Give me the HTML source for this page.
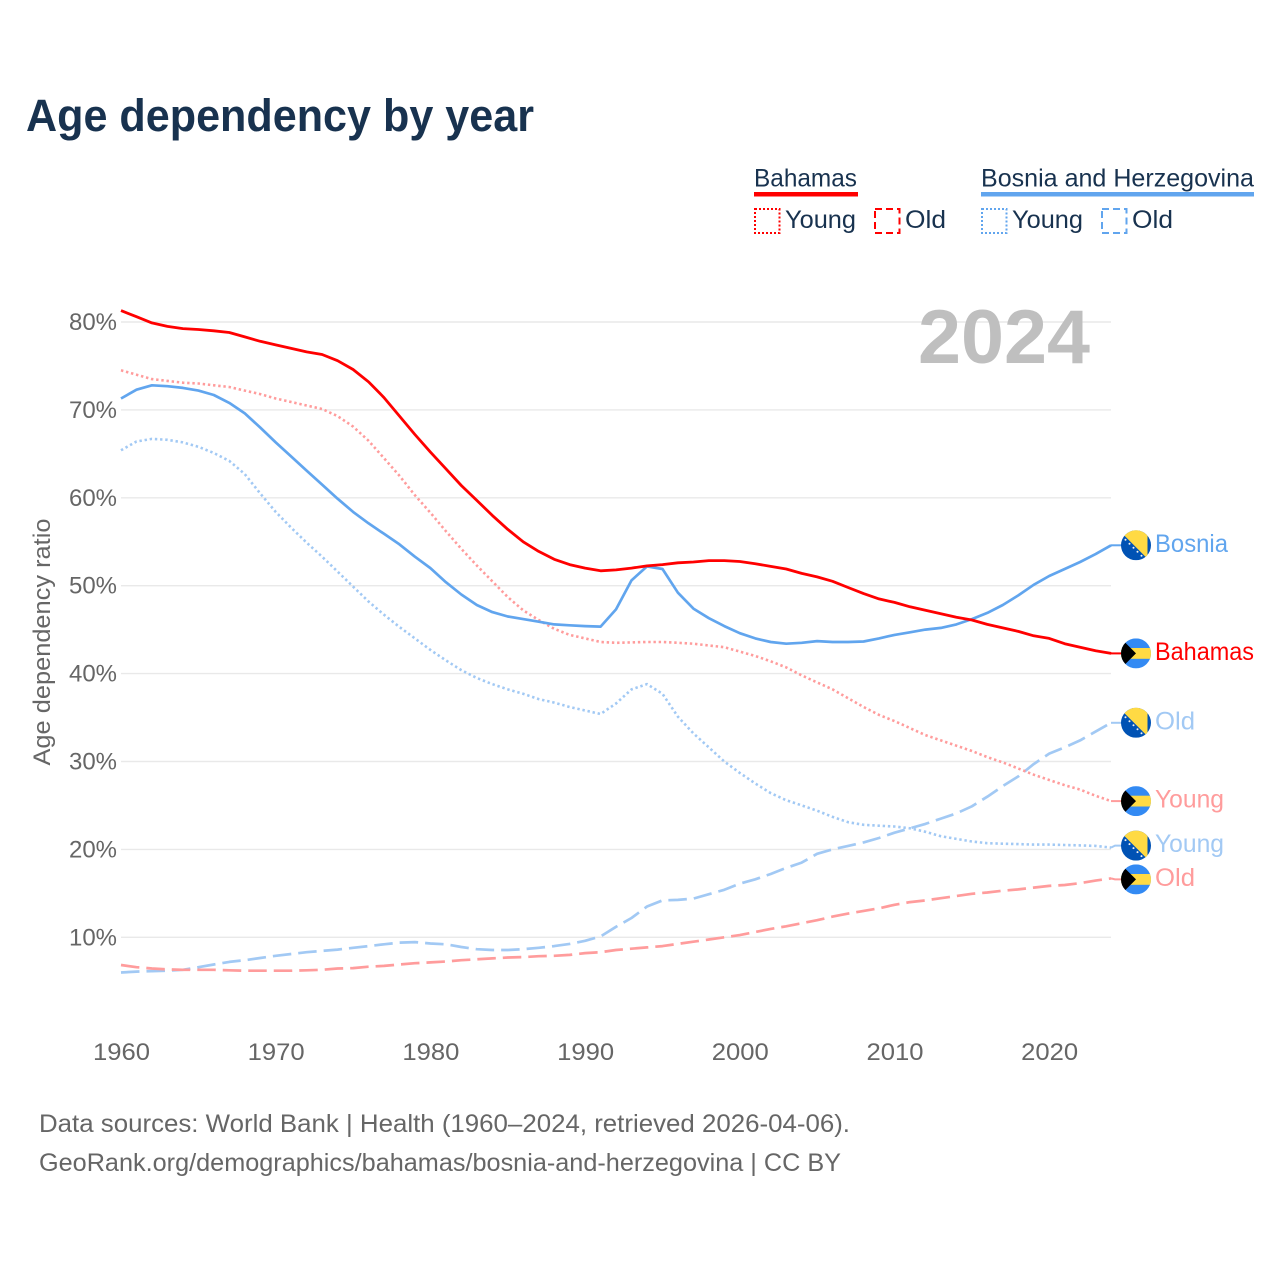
<!DOCTYPE html>
<html lang="en">
<head>
<meta charset="utf-8">
<title>Age dependency by year</title>
<style>
html,body{margin:0;padding:0;background:#fff;width:1280px;height:1280px;overflow:hidden}
svg{display:block}
text{font-family:"Liberation Sans",sans-serif}
</style>
</head>
<body>
<svg id="chart" xmlns="http://www.w3.org/2000/svg" width="1280" height="1280" viewBox="0 0 1280 1280">
  <defs>
    <clipPath id="flag-clip"><circle cx="0" cy="0" r="15"/></clipPath>
    <g id="flag-bahamas" clip-path="url(#flag-clip)">
      <rect x="-15" y="-15" width="30" height="30" fill="#338af3"/>
      <rect x="-15" y="-5.4" width="30" height="10.8" fill="#ffda44"/>
      <polygon points="-15,-15 0,0 -15,15" fill="#000"/>
    </g>
    <g id="flag-bosnia" clip-path="url(#flag-clip)">
      <rect x="-15" y="-15" width="30" height="30" fill="#0052b4"/>
      <polygon points="-20,-18 11.5,-18 11.5,13.5" fill="#ffda44"/>
      <g fill="#f0f0f0">
        <circle cx="-10.5" cy="-5.5" r="1"/><circle cx="-6.5" cy="-1.5" r="1"/><circle cx="-2.5" cy="2.5" r="1"/><circle cx="1.5" cy="6.5" r="1"/><circle cx="5.5" cy="10.5" r="1"/>
      </g>
    </g>
  </defs>

  <text x="26" y="131" font-size="45" font-weight="700" fill="#18324f" textLength="508" lengthAdjust="spacingAndGlyphs">Age dependency by year</text>

  <g>
    <g>
      <text x="754" y="186.5" font-size="25" fill="#18324f" textLength="103" lengthAdjust="spacingAndGlyphs">Bahamas</text>
      <rect x="754" y="192" width="104" height="4.5" fill="#ff0000"/>
      <rect x="755" y="209" width="24.5" height="24" fill="none" stroke="#ff0000" stroke-width="2" stroke-dasharray="2 2"/>
      <text x="785" y="228" font-size="25" fill="#18324f" textLength="71" lengthAdjust="spacingAndGlyphs">Young</text>
      <rect x="875" y="209" width="24.5" height="24" fill="none" stroke="#ff0000" stroke-width="2" stroke-dasharray="7 4"/>
      <text x="905" y="228" font-size="25" fill="#18324f" textLength="41" lengthAdjust="spacingAndGlyphs">Old</text>
    </g>
    <g>
      <text x="981" y="186.5" font-size="25" fill="#18324f" textLength="273" lengthAdjust="spacingAndGlyphs">Bosnia and Herzegovina</text>
      <rect x="981" y="192" width="273" height="4.5" fill="#61a5ee"/>
      <rect x="982" y="209" width="24.5" height="24" fill="none" stroke="#61a5ee" stroke-width="2" stroke-dasharray="2 2"/>
      <text x="1012" y="228" font-size="25" fill="#18324f" textLength="71" lengthAdjust="spacingAndGlyphs">Young</text>
      <rect x="1102" y="209" width="24.5" height="24" fill="none" stroke="#61a5ee" stroke-width="2" stroke-dasharray="7 4"/>
      <text x="1132" y="228" font-size="25" fill="#18324f" textLength="41" lengthAdjust="spacingAndGlyphs">Old</text>
    </g>
  </g>

  <text transform="translate(50,642) rotate(-90)" text-anchor="middle" font-size="24" fill="#666666" textLength="247" lengthAdjust="spacingAndGlyphs">Age dependency ratio</text>
  <g id="grid"></g>
  <g id="y-ticks"></g>
  <g id="x-ticks"></g>
  <text x="918" y="363" font-size="76" font-weight="700" fill="#bfbfbf" textLength="172" lengthAdjust="spacingAndGlyphs">2024</text>
  <g id="series"></g>
  <g id="end-labels"></g>

  <text x="39" y="1132" font-size="25" fill="#666666" textLength="811" lengthAdjust="spacingAndGlyphs">Data sources: World Bank | Health (1960–2024, retrieved 2026-04-06).</text>
  <text x="39" y="1171" font-size="25" fill="#666666" textLength="802" lengthAdjust="spacingAndGlyphs">GeoRank.org/demographics/bahamas/bosnia-and-herzegovina | CC BY</text>
</svg>

<script>
var years = [1960,1961,1962,1963,1964,1965,1966,1967,1968,1969,1970,1971,1972,1973,1974,1975,1976,1977,1978,1979,1980,1981,1982,1983,1984,1985,1986,1987,1988,1989,1990,1991,1992,1993,1994,1995,1996,1997,1998,1999,2000,2001,2002,2003,2004,2005,2006,2007,2008,2009,2010,2011,2012,2013,2014,2015,2016,2017,2018,2019,2020,2021,2022,2023,2024];
var xTickYears = [1960,1970,1980,1990,2000,2010,2020];
var yTickValues = [10,20,30,40,50,60,70,80];

var bahamasTotal = [81.3,80.6,79.9,79.5,79.25,79.15,79.0,78.8,78.3,77.8,
  77.4,77.0,76.6,76.3,75.6,74.6,73.2,71.4,69.3,67.2,
  65.2,63.3,61.4,59.7,58.0,56.4,55.0,53.9,53.0,52.4,
  52.0,51.7,51.8,52.0,52.25,52.4,52.6,52.7,52.85,52.85,
  52.75,52.5,52.2,51.9,51.4,51.0,50.5,49.8,49.1,48.5,
  48.1,47.6,47.2,46.8,46.4,46.1,45.6,45.2,44.8,44.3,
  44.0,43.4,43.0,42.6,42.3];
var bahamasYoung = [74.5,74.0,73.5,73.3,73.1,73.0,72.8,72.6,72.2,71.8,
  71.3,70.9,70.5,70.1,69.3,68.1,66.5,64.5,62.5,60.3,
  58.3,56.2,54.2,52.3,50.5,48.7,47.2,46.1,45.1,44.4,
  44.0,43.6,43.5,43.55,43.6,43.6,43.5,43.4,43.2,43.0,
  42.5,42.0,41.4,40.7,39.8,39.0,38.2,37.2,36.2,35.3,
  34.6,33.8,33.0,32.4,31.8,31.2,30.5,29.9,29.2,28.5,
  27.9,27.3,26.8,26.1,25.5];
var bahamasOld = [6.85,6.6,6.45,6.35,6.3,6.3,6.3,6.25,6.2,6.2,
  6.2,6.2,6.25,6.3,6.45,6.5,6.65,6.75,6.9,7.05,
  7.15,7.25,7.4,7.5,7.6,7.7,7.75,7.85,7.9,8.0,
  8.2,8.3,8.55,8.7,8.85,9.0,9.25,9.5,9.75,10.0,
  10.25,10.6,10.95,11.25,11.6,11.95,12.35,12.7,13.0,13.3,
  13.7,14.0,14.2,14.45,14.7,14.95,15.1,15.3,15.45,15.65,
  15.85,15.95,16.15,16.45,16.7];
var bosniaTotal = [71.3,72.3,72.8,72.7,72.5,72.2,71.7,70.8,69.6,68.0,
  66.3,64.7,63.1,61.5,59.9,58.4,57.1,55.9,54.7,53.3,
  52.0,50.4,49.0,47.8,47.0,46.5,46.2,45.9,45.6,45.5,
  45.4,45.35,47.3,50.6,52.2,51.9,49.2,47.4,46.3,45.4,
  44.6,44.0,43.6,43.4,43.5,43.7,43.6,43.6,43.65,44.0,
  44.4,44.7,45.0,45.2,45.6,46.2,46.9,47.8,48.9,50.1,
  51.1,51.9,52.7,53.6,54.6];
var bosniaYoung = [65.4,66.4,66.7,66.6,66.3,65.8,65.1,64.2,62.7,60.5,
  58.4,56.6,54.9,53.3,51.6,49.9,48.2,46.7,45.3,44.0,
  42.7,41.5,40.4,39.5,38.8,38.2,37.7,37.1,36.7,36.2,
  35.8,35.4,36.6,38.2,38.8,37.7,35.1,33.2,31.6,30.0,
  28.7,27.5,26.4,25.6,25.0,24.4,23.7,23.1,22.8,22.7,
  22.6,22.4,22.0,21.5,21.2,20.9,20.7,20.65,20.6,20.55,
  20.55,20.5,20.45,20.4,20.2];
var bosniaOld = [6.0,6.1,6.15,6.2,6.3,6.6,6.9,7.2,7.4,7.65,
  7.9,8.1,8.3,8.45,8.6,8.8,9.0,9.2,9.4,9.45,
  9.3,9.2,8.9,8.65,8.55,8.55,8.65,8.8,9.0,9.25,
  9.6,10.1,11.2,12.2,13.5,14.2,14.25,14.4,14.9,15.4,
  16.1,16.6,17.2,17.9,18.5,19.5,20.0,20.4,20.8,21.3,
  21.9,22.4,22.9,23.5,24.1,24.9,26.0,27.2,28.3,29.7,
  30.9,31.6,32.4,33.4,34.4];

var NS = 'http://www.w3.org/2000/svg';
function xScale(year){ return 121 + (year - 1960) * 15.47; }
function yScale(value){ return 937.3 - (value - 10) * 8.79; }
function make(tag, attrs, parent){
  var el = document.createElementNS(NS, tag);
  for (var k in attrs) el.setAttribute(k, attrs[k]);
  parent.appendChild(el);
  return el;
}

var gridGroup = document.getElementById('grid');
var yTickGroup = document.getElementById('y-ticks');
var xTickGroup = document.getElementById('x-ticks');
var seriesGroup = document.getElementById('series');
var labelGroup = document.getElementById('end-labels');

yTickValues.forEach(function(v){
  var line = make('line', {x1:121, x2:1111, y1:yScale(v), y2:yScale(v), stroke:'#e9e9e9', 'stroke-width':1.4}, gridGroup);
  
  
  var t = make('text', {x:117, y:yScale(v)+8, 'text-anchor':'end', 'font-size':24, fill:'#666666', textLength:48, lengthAdjust:'spacingAndGlyphs'}, yTickGroup);
  t.textContent = v + '%';
  
  
});

xTickYears.forEach(function(year){
  var t = make('text', {x:xScale(year)+0.5, y:1060, 'text-anchor':'middle', 'font-size':24, fill:'#666666', textLength:57, lengthAdjust:'spacingAndGlyphs'}, xTickGroup);
  t.textContent = year;
  
  
});

var RED = '#ff0000', BLUE = '#61a5ee', LIGHT_RED = '#ff9c9c', LIGHT_BLUE = '#a2c9f4';
var DOT = '2.4 2.8', DASH = '18.5 7';

function drawLine(name, values, color, dash, width){
  var pts = values.map(function(v, i){ return xScale(years[i]).toFixed(1) + ',' + yScale(v).toFixed(1); }).join(' ');
  var attrs = {points:pts, fill:'none', stroke:color, 'stroke-width':width, 'stroke-linejoin':'round'};
  if (dash) attrs['stroke-dasharray'] = dash;
  var line = make('polyline', attrs, seriesGroup);
  
  
}
drawLine('line-bosnia-old', bosniaOld, LIGHT_BLUE, DASH, 2.7);
drawLine('line-bahamas-old', bahamasOld, LIGHT_RED, DASH, 2.7);
drawLine('line-bosnia-young', bosniaYoung, LIGHT_BLUE, DOT, 2.6);
drawLine('line-bahamas-young', bahamasYoung, LIGHT_RED, DOT, 2.6);
drawLine('line-bosnia-total', bosniaTotal, BLUE, null, 2.7);
drawLine('line-bahamas-total', bahamasTotal, RED, null, 2.8);

function drawEndLabel(name, values, text, flag, color, nudge, len){
  var last = values[values.length - 1];
  var yEnd = yScale(last);
  var yLabel = yEnd + nudge;
  var conn = make('polyline', {points:'1111,' + yEnd.toFixed(1) + ' 1115,' + yLabel.toFixed(1) + ' 1122,' + yLabel.toFixed(1), fill:'none', stroke:color, 'stroke-width':2}, labelGroup);
  
  
  var use = make('use', {href:'#' + flag, transform:'translate(1136,' + yLabel.toFixed(1) + ')'}, labelGroup);
  
  
  var t = make('text', {x:1155, y:(yLabel + 6.5).toFixed(1), 'font-size':25, fill:color, textLength:len, lengthAdjust:'spacingAndGlyphs'}, labelGroup);
  t.textContent = text;
  
  
}
drawEndLabel('end-bosnia-total', bosniaTotal, 'Bosnia', 'flag-bosnia', BLUE, 0, 73);
drawEndLabel('end-bahamas-total', bahamasTotal, 'Bahamas', 'flag-bahamas', RED, 0, 99);
drawEndLabel('end-bosnia-old', bosniaOld, 'Old', 'flag-bosnia', LIGHT_BLUE, 0, 40);
drawEndLabel('end-bahamas-young', bahamasYoung, 'Young', 'flag-bahamas', LIGHT_RED, 0, 69);
drawEndLabel('end-bosnia-young', bosniaYoung, 'Young', 'flag-bosnia', LIGHT_BLUE, -2, 69);
drawEndLabel('end-bahamas-old', bahamasOld, 'Old', 'flag-bahamas', LIGHT_RED, 1, 40);
</script>
</body>
</html>
